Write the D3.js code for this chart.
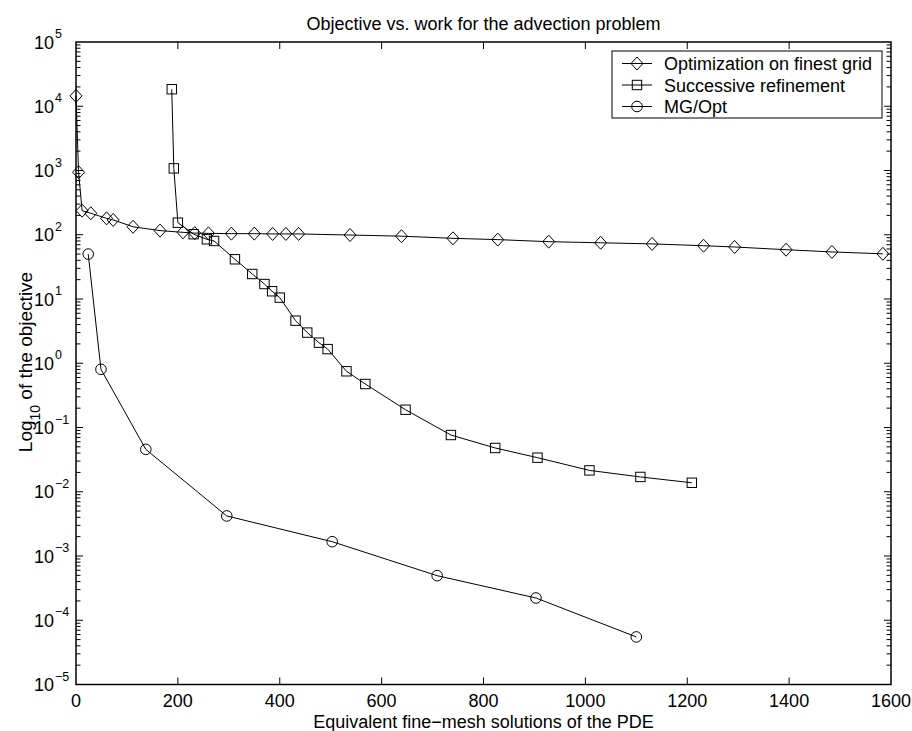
<!DOCTYPE html>
<html>
<head>
<meta charset="utf-8">
<script src="https://cdn.jsdelivr.net/npm/d3@7"></script>
<style>
  body { margin: 0; background: #fff; }
  text { font-family: 'Liberation Sans', Arial, Helvetica, sans-serif; fill: #000; }
</style>
</head>
<body>
<div id="chart"></div>
<script>
// Optimization on finest grid (diamonds)
const finestX = [0, 5, 12, 29, 60, 73, 112, 165, 210, 233, 260, 305, 350, 386, 412, 437, 538, 639, 740, 828, 928, 1030, 1131, 1232, 1293, 1394, 1484, 1584];
const finestY = [14500, 940, 237, 216, 180, 170, 133, 116, 109, 106, 105, 104, 104, 103, 103, 103, 99, 95, 88, 84, 78, 75, 72, 67.5, 64.5, 58.5, 54, 50.5];

// Successive refinement (squares)
const refineX = [188, 192, 200, 231, 257, 271, 312, 346, 370, 385, 400, 431, 454, 477, 494, 531, 568, 647, 736, 823, 906, 1008, 1108, 1209];
const refineY = [18400, 1080, 154, 102, 85, 80, 41.5, 24.5, 17.1, 13.2, 10.5, 4.6, 3.0, 2.09, 1.66, 0.75, 0.475, 0.189, 0.0764, 0.048, 0.0339, 0.0215, 0.017, 0.0138];

// MG/Opt (circles)
const mgX = [24, 49, 137, 296, 503, 709, 903, 1100];
const mgY = [50, 0.805, 0.0457, 0.0042, 0.00167, 0.000494, 0.000222, 0.000055];

const seriesNames = ['Optimization on finest grid', 'Successive refinement', 'MG/Opt'];
const xTicks = [0, 200, 400, 600, 800, 1000, 1200, 1400, 1600];
const yExponents = [-5, -4, -3, -2, -1, 0, 1, 2, 3, 4, 5];

let width = 912,
    height = 731,
    margin = {left: 76, top: 42, right: 21, bottom: 46.5},
    plotWidth = width - margin.left - margin.right,
    plotHeight = height - margin.top - margin.bottom,
    font = 18,
    majorTick = 7,
    minorTick = 4.5;

let svg = d3.select('#chart').append('svg')
    .attr('width', width)
    .attr('height', height);

svg.append('rect')
    .attr('width', width)
    .attr('height', height)
    .attr('fill', '#fff');

let x = d3.scaleLinear().domain([0, 1600]).range([margin.left, margin.left + plotWidth]);
let y = d3.scaleLog().domain([1e-5, 1e5]).range([margin.top + plotHeight, margin.top]);

const series = [
    {name: seriesNames[0], shape: 'diamond', data: finestX.map((d, i) => [d, finestY[i]])},
    {name: seriesNames[1], shape: 'square', data: refineX.map((d, i) => [d, refineY[i]])},
    {name: seriesNames[2], shape: 'circle', data: mgX.map((d, i) => [d, mgY[i]])}
];

// minor ticks for the log axis
let minorVals = [];
yExponents.slice(0, -1).forEach(e => {
    for (let k = 2; k <= 9; k++) minorVals.push(k * Math.pow(10, e));
});

let axisG = svg.append('g')
    .attr('stroke', '#000')
    .attr('fill', 'none');

// x ticks bottom + top
axisG.selectAll('.xt')
    .data(xTicks.filter(d => d > 0 && d < 1600))
    .join('path')
    .attr('stroke-width', 1)
    .attr('d', d => `M${x(d)},${y(1e-5)}v${-majorTick}M${x(d)},${y(1e5)}v${majorTick}`);

// y ticks left + right
axisG.selectAll('.yt')
    .data(yExponents.slice(1, -1).map(e => Math.pow(10, e)))
    .join('path')
    .attr('stroke-width', 1)
    .attr('d', d => `M${x(0)},${y(d)}h${majorTick}M${x(1600)},${y(d)}h${-majorTick}`);

axisG.selectAll('.ym')
    .data(minorVals)
    .join('path')
    .attr('stroke-width', 1)
    .attr('d', d => `M${x(0)},${y(d)}h${minorTick}M${x(1600)},${y(d)}h${-minorTick}`);

axisG.append('rect')
    .attr('x', x(0))
    .attr('y', y(1e5))
    .attr('width', x(1600) - x(0))
    .attr('height', y(1e-5) - y(1e5))
    .attr('stroke-width', 1.5);

// tick labels
svg.append('g')
    .selectAll('text')
    .data(xTicks)
    .join('text')
    .attr('x', d => x(d))
    .attr('y', y(1e-5) + 22)
    .attr('text-anchor', 'middle')
    .attr('font-size', font)
    .text(d => d);

let yLab = svg.append('g')
    .selectAll('text')
    .data(yExponents)
    .join('text')
    .attr('y', d => y(Math.pow(10, d)) + 6.5)
    .attr('font-size', font);

yLab.append('tspan')
    .attr('x', 54)
    .attr('text-anchor', 'end')
    .text('10');

yLab.append('tspan')
    .attr('x', 55)
    .attr('dy', -10.5)
    .attr('font-size', 12.5)
    .text(d => d < 0 ? '\u2212' + Math.abs(d) : d);

// lines and markers
const line = d3.line()
    .x(d => x(d[0]))
    .y(d => y(d[1]));

function drawMarker(g, shape) {
    if (shape === 'diamond') {
        g.append('path').attr('d', 'M0,-6.5L6,0L0,6.5L-6,0Z');
    } else if (shape === 'square') {
        g.append('rect').attr('x', -4.7).attr('y', -4.7).attr('width', 9.4).attr('height', 9.4);
    } else {
        g.append('circle').attr('r', 5.3);
    }
}

let seriesG = svg.append('g');

series.forEach(s => {
    seriesG.append('path')
        .datum(s.data)
        .attr('fill', 'none')
        .attr('stroke', '#000')
        .attr('stroke-width', 1)
        .attr('d', line);

    seriesG.append('g')
        .selectAll('g')
        .data(s.data)
        .join('g')
        .attr('transform', d => `translate(${x(d[0])}, ${y(d[1])})`)
        .attr('fill', 'none')
        .attr('stroke', '#000')
        .attr('stroke-width', 1)
        .each(function () { drawMarker(d3.select(this), s.shape); });
});

// legend
let legend = svg.append('g');

legend.append('rect')
    .attr('x', 612)
    .attr('y', 51)
    .attr('width', 270)
    .attr('height', 67)
    .attr('fill', '#fff')
    .attr('stroke', '#000')
    .attr('stroke-width', 1);

let item = legend.selectAll('.item')
    .data(series)
    .join('g')
    .attr('transform', (d, i) => `translate(622, ${63.5 + i * 21.5})`);

item.append('line')
    .attr('x1', 0)
    .attr('x2', 30)
    .attr('stroke', '#000')
    .attr('stroke-width', 1);

item.append('g')
    .attr('transform', 'translate(15, 0)')
    .attr('fill', 'none')
    .attr('stroke', '#000')
    .attr('stroke-width', 1)
    .each(function (d) { drawMarker(d3.select(this), d.shape); });

item.append('text')
    .attr('x', 42)
    .attr('y', 6.5)
    .attr('font-size', font)
    .text(d => d.name);

// titles
svg.append('text')
    .attr('x', x(800))
    .attr('y', 30)
    .attr('text-anchor', 'middle')
    .attr('font-size', font)
    .text('Objective vs. work for the advection problem');

svg.append('text')
    .attr('x', x(800))
    .attr('y', 728)
    .attr('text-anchor', 'middle')
    .attr('font-size', font)
    .text('Equivalent fine\u2212mesh solutions of the PDE');

// y label, kept clear of the 10^-1 tick label
let yTitle = svg.append('text')
    .attr('transform', 'translate(31.5, 362) rotate(-90)')
    .attr('text-anchor', 'middle')
    .attr('font-size', 19);

yTitle.append('tspan').text('Log');
yTitle.append('tspan').attr('dy', 8).attr('font-size', 14).text('10');
yTitle.append('tspan').attr('dy', -8).text(' of the objective');
</script>
</body>
</html>
